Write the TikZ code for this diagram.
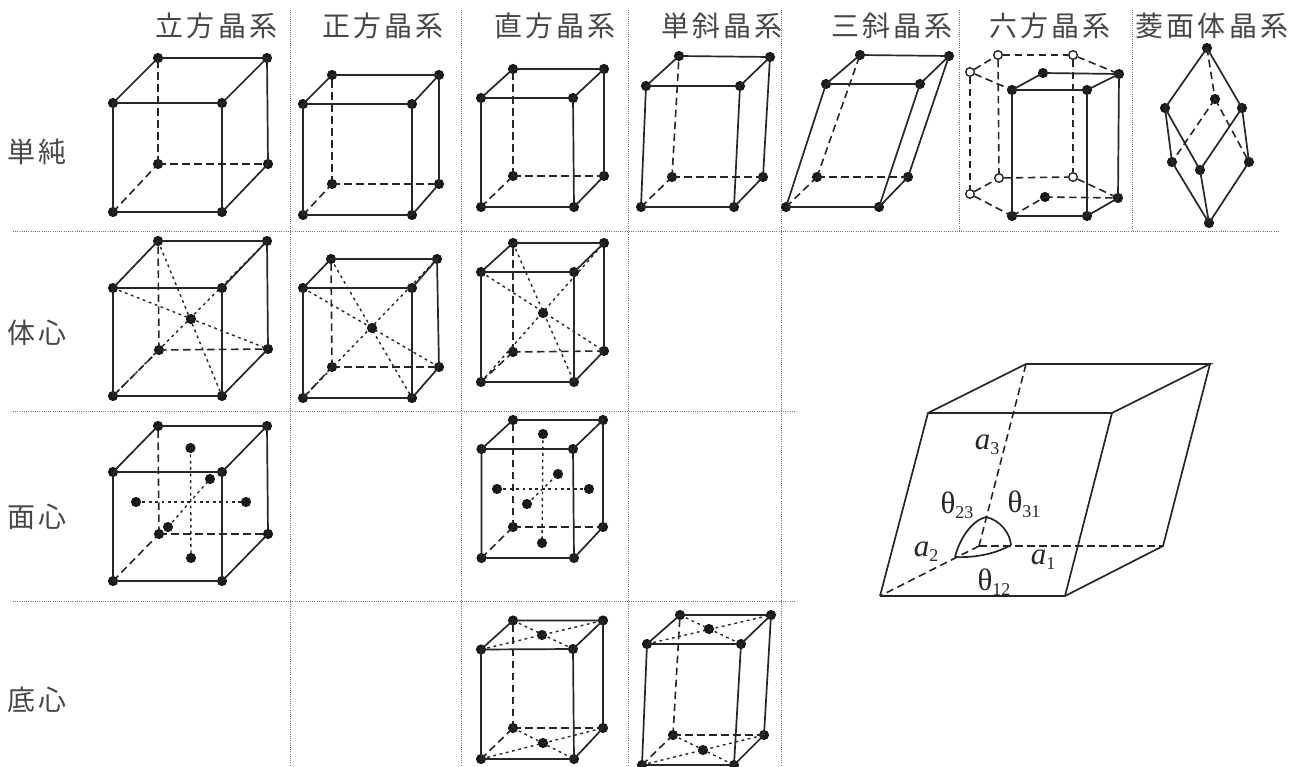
\documentclass[tikz,border=0pt]{standalone}
\usepackage{fontspec}
\setmainfont{Liberation Serif}
\newfontfamily\jpfont[LetterSpace=11]{Noto Sans CJK JP}
\newcommand{\sbs}[1]{\raisebox{-5pt}{\fontsize{18}{18}\selectfont #1}}
\tikzset{
  atom/.style={circle,fill=black!90,inner sep=0pt,minimum size=10.2pt},
  hollow/.style={circle,draw=black!90,fill=white,line width=1.3pt,inner sep=0pt,minimum size=8.6pt},
  solidedge/.style={draw=black!85,line width=1.7pt},
  dashedge/.style={draw=black!85,line width=1.6pt,dash pattern=on 7.5pt off 4.5pt},
  shortdash/.style={draw=black!85,line width=1.4pt,dash pattern=on 2.8pt off 3.6pt},
  gridline/.style={draw=black!55,line width=1pt,dash pattern=on 1pt off 1.2pt},
  head/.style={font=\jpfont\fontsize{28}{28}\selectfont,text=black!72,inner sep=0pt},
  rowlabel/.style={font=\jpfont\fontsize{28}{28}\selectfont,text=black!72,inner sep=0pt,anchor=west},
  sym/.style={font=\fontsize{31}{31}\selectfont,text=black!85,inner sep=0pt},
}
% corner order: FTL FTR FBL FBR BTL BTR BBL BBR
\newcommand{\crystalcell}[9]{%
  \node[atom] (#1ftl) at (#2) {};
  \node[atom] (#1ftr) at (#3) {};
  \node[atom] (#1fbl) at (#4) {};
  \node[atom] (#1fbr) at (#5) {};
  \node[atom] (#1btl) at (#6) {};
  \node[atom] (#1btr) at (#7) {};
  \node[atom] (#1bbl) at (#8) {};
  \node[atom] (#1bbr) at (#9) {};
  \draw[solidedge] (#1ftl.center) -- (#1ftr.center) -- (#1fbr.center) -- (#1fbl.center) -- (#1ftl.center);
  \draw[solidedge] (#1ftl.center) -- (#1btl.center) -- (#1btr.center) -- (#1ftr.center);
  \draw[solidedge] (#1btr.center) -- (#1bbr.center) -- (#1fbr.center);
  \draw[dashedge] (#1fbl.center) -- (#1bbl.center);
  \draw[dashedge] (#1bbl.center) -- (#1btl.center);
  \draw[dashedge] (#1bbl.center) -- (#1bbr.center);
}
\newcommand{\bodycentre}[2]{%
  \node[atom] (#1c) at (#2) {};
  \draw[shortdash] (#1btl.center) -- (#1fbr.center);
  \draw[shortdash] (#1ftl.center) -- (#1bbr.center);
  \draw[shortdash] (#1fbl.center) -- (#1btr.center);
}
\newcommand{\facecentre}[7]{%
  \node[atom] (#1t) at (#2) {};
  \node[atom] (#1b) at (#3) {};
  \node[atom] (#1l) at (#4) {};
  \node[atom] (#1r) at (#5) {};
  \node[atom] (#1f) at (#6) {};
  \node[atom] (#1k) at (#7) {};
  \draw[shortdash] (#1t.center) -- (#1b.center);
  \draw[shortdash] (#1l.center) -- (#1r.center);
  \draw[shortdash] (#1f.center) -- (#1k.center);
}
\newcommand{\basecentre}[3]{%
  \node[atom] (#1t) at (#2) {};
  \node[atom] (#1b) at (#3) {};
  \draw[shortdash] (#1ftl.center) -- (#1btr.center);
  \draw[shortdash] (#1btl.center) -- (#1ftr.center);
  \draw[shortdash] (#1fbl.center) -- (#1bbr.center);
  \draw[shortdash] (#1bbl.center) -- (#1fbr.center);
}
\begin{document}
\begin{tikzpicture}[x=1pt,y=-1pt]
\useasboundingbox (0,0) rectangle (1299,767);
% grid
\draw[gridline] (290,10) -- (290,767);
\draw[gridline] (461,10) -- (461,767);
\draw[gridline] (628,10) -- (628,767);
\draw[gridline] (781,10) -- (781,767);
\draw[gridline] (959,10) -- (959,231);
\draw[gridline] (1132,10) -- (1132,231);
\draw[gridline] (13,231.5) -- (1279,231.5);
\draw[gridline] (13,411.5) -- (795,411.5);
\draw[gridline] (13,601.5) -- (795,601.5);
% headers
\node[head] (h1) at (216.5,26) {立方晶系};
\node[head] (h2) at (383,26) {正方晶系};
\node[head] (h3) at (555,26) {直方晶系};
\node[head] (h4) at (722,26) {単斜晶系};
\node[head] (h5) at (892,26) {三斜晶系};
\node[head] (h6) at (1050,26) {六方晶系};
\node[head] (h7) at (1212,26) {菱面体晶系};
% row labels
\node[rowlabel] (r1) at (7,152) {単純};
\node[rowlabel] (r2) at (7,333) {体心};
\node[rowlabel] (r3) at (7,517) {面心};
\node[rowlabel] (r4) at (7,700) {底心};
% row 1
\crystalcell{sa}{113,103}{222,103}{113,212}{222,212}{158,58}{267,58}{158,164}{268,164}
\crystalcell{sb}{303,104}{412,104}{303,215}{412,215}{332,75}{439,75}{332,184}{439,184}
\crystalcell{sc}{481,98}{573,98}{481,207}{574,207}{513,69}{604,69}{513,176}{604,176}
\crystalcell{sd}{646,86}{740,86}{641,207}{734,207}{679,56}{770,57}{672,177}{763,177}
\crystalcell{se}{826,84}{920,84}{786,207}{879,207}{860,55}{949,56}{817,177}{908,177}
% hexagonal
\node[atom] (x1) at (1012,90) {};
\node[atom] (x2) at (1087,90) {};
\node[atom] (x3) at (1043,73) {};
\node[atom] (x4) at (1119,74) {};
\node[atom] (x5) at (1012,216) {};
\node[atom] (x6) at (1087,216) {};
\node[atom] (x7) at (1118,198) {};
\node[atom] (x8) at (1045,197) {};
\node[hollow] (o1) at (970,72) {};
\node[hollow] (o2) at (998,55) {};
\node[hollow] (o3) at (1073,55) {};
\node[hollow] (o4) at (970,194) {};
\node[hollow] (o5) at (999,178) {};
\node[hollow] (o6) at (1073,177) {};
\draw[solidedge] (x1.center) -- (x3.center) -- (x4.center) -- (x2.center) -- (x1.center);
\draw[solidedge] (x1.center) -- (x5.center) -- (x6.center) -- (x2.center);
\draw[solidedge] (x4.center) -- (x7.center) -- (x6.center);
\draw[dashedge] (o1) -- (o2);
\draw[dashedge] (o2) -- (o3);
\draw[dashedge] (o3) -- (x4.center);
\draw[dashedge] (o1) -- (x1.center);
\draw[dashedge] (o1) -- (o4);
\draw[dashedge] (o2) -- (o5);
\draw[dashedge] (o3) -- (o6);
\draw[dashedge] (o4) -- (o5);
\draw[dashedge] (o5) -- (o6);
\draw[dashedge] (o6) -- (x7.center);
\draw[dashedge] (o4) -- (x5.center);
\draw[dashedge] (x5.center) -- (x8.center);
\draw[dashedge] (x8.center) -- (x7.center);
% rhombohedral
\node[atom] (ra) at (1207,48) {};
\node[atom] (rb) at (1165,108) {};
\node[atom] (rc) at (1215,99) {};
\node[atom] (rd) at (1242,108) {};
\node[atom] (re) at (1172,162) {};
\node[atom] (rf) at (1200,170) {};
\node[atom] (rg) at (1249,162) {};
\node[atom] (rh) at (1209,223) {};
\draw[solidedge] (rb.center) -- (ra.center) -- (rd.center);
\draw[solidedge] (re.center) -- (rb.center) -- (rf.center) -- (rd.center) -- (rg.center);
\draw[solidedge] (re.center) -- (rh.center) -- (rg.center);
\draw[solidedge] (rf.center) -- (rh.center);
\draw[dashedge] (ra.center) -- (rc.center);
\draw[dashedge] (rc.center) -- (re.center);
\draw[dashedge] (rc.center) -- (rg.center);
% row 2
\crystalcell{ba}{113,288}{222,288}{113,396}{222,396}{158,241}{267,241}{159,350}{268,349}
\bodycentre{ba}{191,319}
\crystalcell{bb}{303,288}{412,288}{303,398}{412,398}{331,259}{437,259}{332,367}{439,367}
\bodycentre{bb}{372,328}
\crystalcell{bc}{481,272}{574,272}{481,382}{574,382}{513,243}{604,243}{513,352}{604,351}
\bodycentre{bc}{543,313}
% row 3
\crystalcell{fa}{113,472}{222,472}{113,581}{222,581}{158,426}{267,426}{159,534}{268,534}
\facecentre{fa}{190.5,448}{191,558}{136,502}{246,502}{168,527}{210,479}
\crystalcell{fc}{481.5,449}{573,449}{481.5,558}{574,558}{513,420}{603,420}{513,527}{603,527}
\facecentre{fc}{543,434}{542,543}{497,489}{589,489}{527,504}{558,474}
% row 4
\crystalcell{ec}{481,649.5}{573,649}{481,759}{574,759}{513,620.5}{603,620.5}{513,728}{603,728}
\basecentre{ec}{542,635}{543,743}
\crystalcell{ed}{647,644}{741,644}{642,765}{734,765}{680,615}{771,615}{673,735}{764,735}
\basecentre{ed}{709,629}{703,750}
% large cell
\coordinate (la) at (880,596);
\coordinate (lb) at (1065,596);
\coordinate (lc) at (928,413);
\coordinate (ld) at (1112,413);
\coordinate (le) at (1026,364);
\coordinate (lf) at (1210,364);
\coordinate (lg) at (1163,546);
\coordinate (lo) at (979,546);
\coordinate (pa) at (955,557);
\coordinate (pb) at (986,517);
\coordinate (pc) at (1011,545);
\draw[solidedge] (la) -- (lb) -- (ld) -- (lc) -- (la);
\draw[solidedge] (lc) -- (le) -- (lf) -- (ld);
\draw[solidedge] (lf) -- (lg) -- (lb);
\draw[dashedge] (lo) -- (la);
\draw[dashedge] (lo) -- (le);
\draw[dashedge] (lo) -- (lg);
\draw[solidedge] (pa) .. controls (960,537) and (973,520) .. (pb);
\draw[solidedge] (pb) .. controls (1000,520) and (1010,533) .. (pc);
\draw[solidedge] (pa) .. controls (977,558) and (997,553) .. (pc);
\node[sym] (t1) at (987,445) {\textit{a}\sbs{3}};
\node[sym] (t2) at (926,552) {\textit{a}\sbs{2}};
\node[sym] (t3) at (1043,560) {\textit{a}\sbs{1}};
\node[sym] (t4) at (957,505) {θ\sbs{23}};
\node[sym] (t5) at (1024,504) {θ\sbs{31}};
\node[sym] (t6) at (994,582) {θ\sbs{12}};
\end{tikzpicture}
\end{document}
